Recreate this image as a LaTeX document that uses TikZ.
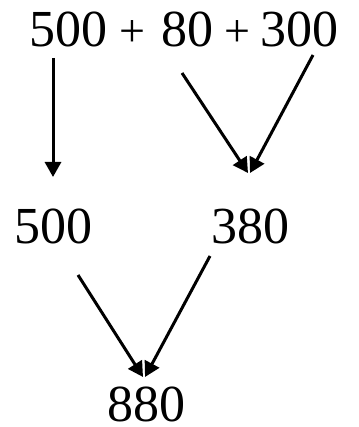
\documentclass[tikz,border=0pt]{standalone}
\usepackage{fontspec}
\setmainfont{Liberation Serif}
\usetikzlibrary{arrows.meta}
\begin{document}
\begin{tikzpicture}[x=1pt,y=-1pt,
  num/.style={inner sep=0pt,anchor=base,font=\fontsize{52}{60}\selectfont},
  plus/.style={inner sep=0pt,anchor=center,font=\fontsize{46}{52}\selectfont},
  arr/.style={line width=3pt,-{Triangle[length=15pt,width=16pt]}}]
\useasboundingbox (0,0) rectangle (358,427);
% top row
\node[num] (t500) at (68,47) {500};
\node[plus] (p1) at (132.5,34) {+};
\node[num] (t80) at (187.5,47) {80};
\node[plus] (p2) at (237,34) {+};
\node[num] (t300) at (299.5,47) {300};
% middle row
\node[num] (m500) at (53.5,243) {500};
\node[num] (m380) at (250,243) {380};
% bottom
\node[num] (b880) at (146.5,421) {880};
% connector ends
\coordinate (s1) at (53,58);   \coordinate (e1) at (53,177);
\coordinate (s2) at (182,73);  \coordinate (e2) at (248,173);
\coordinate (s3) at (313,55);  \coordinate (e3) at (250,173);
\coordinate (s4) at (78,275);  \coordinate (e4) at (143,377);
\coordinate (s5) at (210,256); \coordinate (e5) at (145,377);
\draw[arr] (s1) -- (e1);
\draw[arr] (s2) -- (e2);
\draw[arr] (s3) -- (e3);
\draw[arr] (s4) -- (e4);
\draw[arr] (s5) -- (e5);
\end{tikzpicture}
\end{document}
